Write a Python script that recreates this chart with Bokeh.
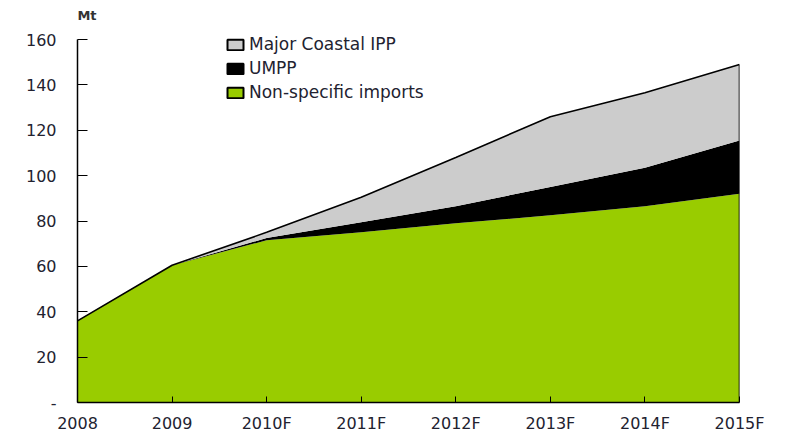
from bokeh.plotting import figure
from bokeh.models import Range1d, FixedTicker, Legend, LegendItem, Label
from bokeh.embed import file_html
from bokeh.resources import INLINE

years = ["2008", "2009", "2010F", "2011F", "2012F", "2013F", "2014F", "2015F"]
non_specific = [36, 60.5, 71.5, 75, 79, 82.5, 86.5, 92]
umpp = [0, 0, 1, 4.5, 7.5, 12.5, 17, 23.5]
coastal = [0, 0, 2.5, 11, 21.5, 31, 33, 33.5]
y_ticks = [0, 20, 40, 60, 80, 100, 120, 140, 160]
y_max = 160

x = list(range(len(years)))
data = dict(x=x, non_specific=non_specific, umpp=umpp, coastal=coastal)
total = [a + b + c for a, b, c in zip(non_specific, umpp, coastal)]
nan = float("nan")

FONT = "DejaVu Sans"
TXT = "#222230"

p = figure(frame_width=662, frame_height=397, output_backend="svg", toolbar_location=None,
           x_range=Range1d(0, len(years) - 1), y_range=Range1d(0, 175),
           min_border_left=77, min_border_top=5, min_border_right=44, min_border_bottom=10)
p.outline_line_color = None
p.grid.visible = False

p.varea_stack(["non_specific", "umpp", "coastal"], x="x", source=data,
              color=["#99CC00", "#000000", "#CCCCCC"])
p.line(x, total, line_color="black", line_width=1.6)
p.segment(x0=[x[-1]], y0=[0], x1=[x[-1]], y1=[total[-1]], line_color="black", line_width=1.6)

# legend-only renderers (no visible data)
r_c = p.patch(x=[nan], y=[nan], fill_color="#CCCCCC", line_color="black", line_width=2)
r_u = p.patch(x=[nan], y=[nan], fill_color="#000000", line_color="black", line_width=2)
r_n = p.patch(x=[nan], y=[nan], fill_color="#99CC00", line_color="black", line_width=2)
legend = Legend(items=[LegendItem(label="Major Coastal IPP", renderers=[r_c]),
                       LegendItem(label="UMPP", renderers=[r_u]),
                       LegendItem(label="Non-specific imports", renderers=[r_n])],
                location=(148, 298), padding=0, margin=0, spacing=0,
                label_height=24, glyph_height=13, glyph_width=20, label_standoff=4,
                border_line_color=None, background_fill_alpha=0,
                label_text_font=FONT, label_text_font_size="17px", label_text_color=TXT)
p.add_layout(legend, "center")

p.add_layout(Label(x=0.1, y=167.5, text="Mt", text_align="center", text_baseline="bottom",
                   text_font=FONT, text_font_size="13px", text_font_style="bold",
                   text_color="#333333"))

xa = p.xaxis[0]
xa.ticker = FixedTicker(ticks=x)
xa.major_label_overrides = {i: years[i] for i in x}
xa.axis_line_color = "black"
xa.axis_line_width = 1.5
xa.major_tick_in = 6
xa.major_tick_out = 0
xa.major_tick_line_color = "black"
xa.minor_tick_line_color = None
xa.major_label_standoff = 11
xa.major_label_text_font = FONT
xa.major_label_text_font_size = "16px"
xa.major_label_text_color = TXT

ya = p.yaxis[0]
ya.bounds = (0, y_max)
ya.ticker = FixedTicker(ticks=y_ticks)
ya.major_label_overrides = {0: "-"}
ya.axis_line_color = "black"
ya.axis_line_width = 1.5
ya.major_tick_in = 10
ya.major_tick_out = 0
ya.major_tick_line_color = "black"
ya.minor_tick_line_color = None
ya.major_label_standoff = 21
ya.major_label_text_font = FONT
ya.major_label_text_font_size = "16px"
ya.major_label_text_color = TXT

open("out.html", "w").write(file_html(p, INLINE))
